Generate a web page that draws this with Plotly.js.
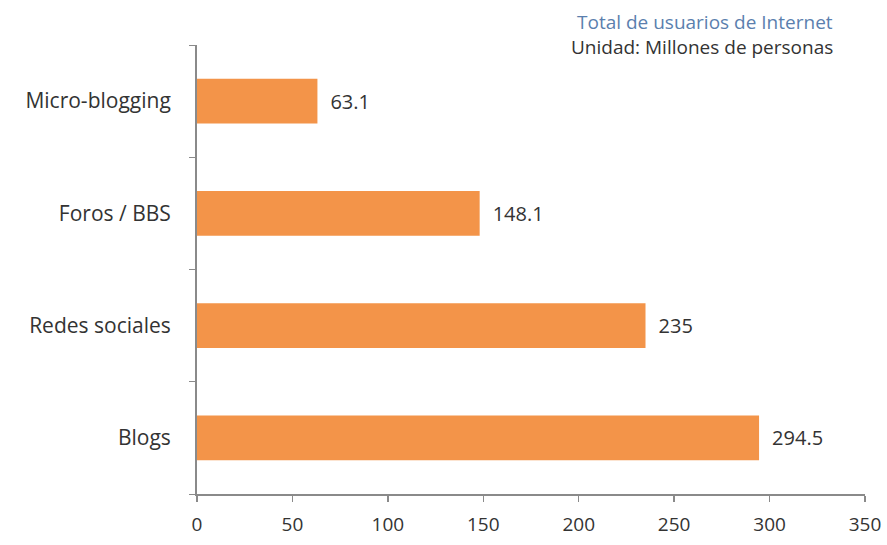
<!DOCTYPE html>
<html><head><meta charset="utf-8">
<script src="https://cdn.plot.ly/plotly-3.0.1.min.js"></script>
<style>html,body{margin:0;padding:0;background:#fff}#c{width:887px;height:545px}</style>
</head><body><div id="c"></div>
<script>
const categories = ["Blogs", "Redes sociales", "Foros / BBS", "Micro-blogging"];
const values = [294.5, 235, 148.1, 63.1];
const valueLabels = ["294.5", "235", "148.1", "63.1"];
const xTicks = [0, 50, 100, 150, 200, 250, 300, 350];
const FONT = '"Open Sans", sans-serif';

const trace = {
  type: 'bar', orientation: 'h',
  y: categories, x: values,
  text: valueLabels.map(s => '\u2002' + s), textposition: 'outside',
  textfont: {family: FONT, size: 20, color: '#333'},
  marker: {color: '#F39449'},
  cliponaxis: false, hoverinfo: 'none'
};
const layout = {
  width: 887, height: 545,
  margin: {l: 197, r: 22, t: 45, b: 51},
  paper_bgcolor: '#fff', plot_bgcolor: '#fff',
  bargap: 0.6, showlegend: false,
  font: {family: FONT, size: 20, color: '#333'},
  xaxis: {range: [0, 350], tickvals: xTicks, showgrid: false, zeroline: false,
    showline: true, linecolor: '#8a8a8a', linewidth: 2,
    ticks: 'outside', ticklen: 6, tickcolor: '#8a8a8a', tickwidth: 1.5,
    tickfont: {family: FONT, size: 19, color: '#333'}, ticklabelstandoff: 6, fixedrange: true},
  yaxis: {showgrid: false, zeroline: false, showline: true, linecolor: '#8a8a8a', linewidth: 2,
    ticks: 'outside', tickson: 'boundaries', ticklen: 6, tickcolor: '#8a8a8a',
    tickfont: {family: FONT, size: 21, color: '#333'}, ticklabelstandoff: 20, fixedrange: true},
  annotations: [
    {text: 'Total de usuarios de Internet', xref: 'paper', yref: 'paper', x: 0.955, y: 1.051,
     xanchor: 'right', yanchor: 'middle', showarrow: false,
     font: {family: FONT, size: 19, color: '#5B7FAE'}},
    {text: 'Unidad: Millones de personas', xref: 'paper', yref: 'paper', x: 0.955, y: 0.995,
     xanchor: 'right', yanchor: 'middle', showarrow: false,
     font: {family: FONT, size: 19, color: '#333'}}
  ]
};
Plotly.newPlot('c', [trace], layout, {displayModeBar: false, staticPlot: true});
</script></body></html>
